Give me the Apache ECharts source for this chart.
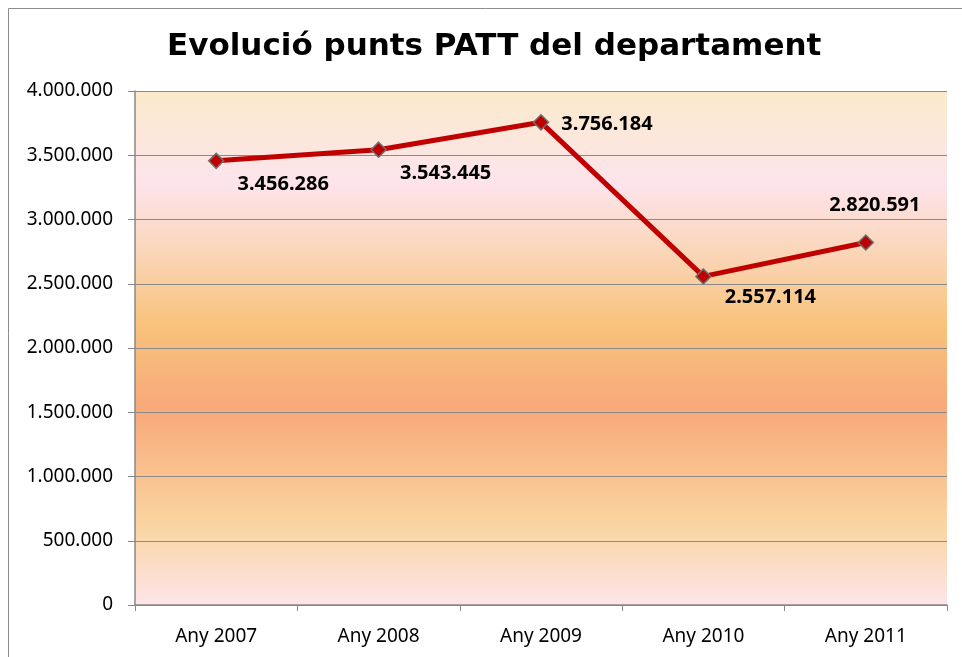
<!DOCTYPE html>
<html>
<head>
<meta charset="utf-8">
<script src="https://cdn.jsdelivr.net/npm/echarts@6/dist/echarts.min.js"></script>
<style>
  html, body { margin: 0; padding: 0; background: #fff; }
  #chart { width: 962px; height: 657px; }
</style>
</head>
<body>
<div id="chart"></div>
<script>
var categories = ['Any 2007', 'Any 2008', 'Any 2009', 'Any 2010', 'Any 2011'];
var punts = [3456286, 3543445, 3756184, 2557114, 2820591];
// label offsets from each point (px)
var labelOffsets = [[67, 23], [67, 24], [66, 2], [67, 21], [9, -37]];

function fmt(v) {
  return String(Math.round(v)).replace(/\B(?=(\d{3})+(?!\d))/g, '.');
}

var chart = echarts.init(document.getElementById('chart'));

var option = {
  animation: false,
  title: {
    text: 'Evolució punts PATT del departament',
    left: 162,
    top: 26,
    textStyle: {
      fontFamily: 'DejaVu Sans',
      fontWeight: 'bold',
      fontSize: 31,
      color: '#000'
    }
  },
  graphic: [{
    type: 'rect',
    shape: { x: 8.5, y: 8.5, width: 1000, height: 700 },
    style: { fill: 'none', stroke: '#8c8c8c', lineWidth: 1 },
    silent: true
  }],
  grid: {
    left: 135,
    top: 91,
    right: 15,
    bottom: 52,
    show: true,
    borderWidth: 0,
    backgroundColor: new echarts.graphic.LinearGradient(0, 0, 0, 1, [
      { offset: 0, color: '#fbeacb' },
      { offset: 0.18, color: '#fde4ec' },
      { offset: 0.33, color: '#fad4b2' },
      { offset: 0.45, color: '#f8c37c' },
      { offset: 0.62, color: '#f8a97a' },
      { offset: 0.84, color: '#fad49f' },
      { offset: 1, color: '#fde5ea' }
    ])
  },
  xAxis: {
    type: 'category',
    data: categories,
    boundaryGap: true,
    axisLine: { lineStyle: { color: '#888', width: 1.5 } },
    axisTick: { show: true, length: 6, lineStyle: { color: '#888' } },
    axisLabel: {
      margin: 22,
      fontFamily: 'Noto Sans',
      fontSize: 19,
      color: '#000'
    }
  },
  yAxis: {
    type: 'value',
    min: 0,
    max: 4000000,
    interval: 500000,
    axisLine: { show: true, lineStyle: { color: '#888', width: 1.5 } },
    axisTick: { show: true, length: 7, lineStyle: { color: '#888' } },
    splitLine: { lineStyle: { color: '#8a8a8a', width: 1.2 } },
    axisLabel: {
      margin: 22,
      fontFamily: 'Noto Sans',
      fontSize: 19,
      color: '#000',
      formatter: function (v) { return fmt(v); }
    }
  },
  series: [{
    type: 'line',
    data: punts.map(function (v, i) {
      return {
        value: v,
        label: { offset: labelOffsets[i] }
      };
    }),
    lineStyle: { color: '#c00000', width: 5 },
    symbol: 'diamond',
    symbolSize: 15,
    itemStyle: { color: '#c00000', borderColor: '#707070', borderWidth: 1.5 },
    label: {
      show: true,
      position: 'inside',
      fontFamily: 'Noto Sans',
      fontWeight: 'bold',
      fontSize: 20,
      color: '#000',
      formatter: function (p) { return fmt(p.value); }
    },
    z: 5
  }]
};

chart.setOption(option);
</script>
</body>
</html>
